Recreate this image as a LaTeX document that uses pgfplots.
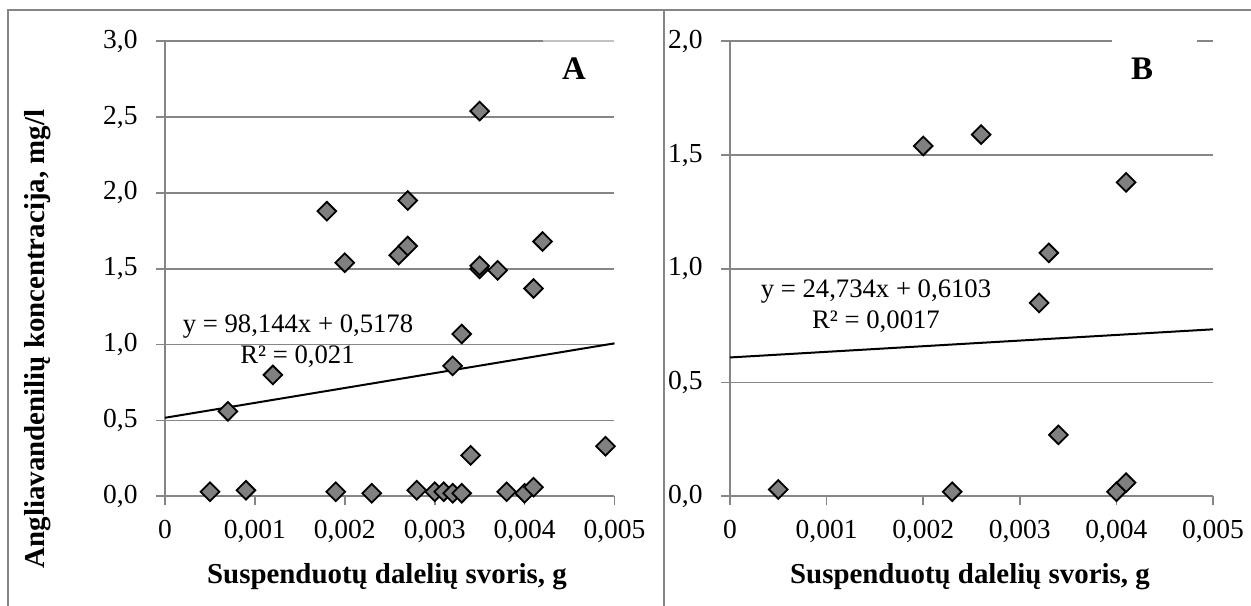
\documentclass[border=0pt]{standalone}
\usepackage{pgfplots}
\pgfplotsset{compat=1.18}
\usepackage{fontspec}
\setmainfont{Liberation Serif}
\definecolor{gridgray}{RGB}{134,134,134}
\definecolor{markgray}{RGB}{128,128,128}
\newcommand\tickfont{\fontsize{13.8}{16}\selectfont}
\newcommand\eqfont{\fontsize{13.4}{16}\selectfont}
\newcommand\titlefont{\fontsize{14.5}{17}\selectfont\bfseries}
\newcommand\letterfont{\fontsize{16.5}{19}\selectfont\bfseries}

\pgfplotsset{
 panel/.style={
  scale only axis, anchor=south west,
  height=227.5bp,
  xmin=0, xmax=0.005, ymin=0,
  axis x line*=bottom, axis y line*=left,
  axis line style={gridgray, line width=0.85bp, -},
  xtick={0,0.001,0.002,0.003,0.004,0.005},
  xticklabels={0,{0,001},{0,002},{0,003},{0,004},{0,005}},
  scaled x ticks=false, scaled y ticks=false,
  tick align=outside, major tick length=4.5bp,
  tick style={gridgray, line width=0.85bp},
  ymajorgrids, grid style={gridgray, line width=0.85bp},
  ticklabel style={font=\tickfont},
  xticklabel style={anchor=north, inner sep=0pt, yshift=-7.5bp},
  yticklabel style={anchor=east, inner sep=0pt, xshift=-9bp},
  clip=false,
 },
 pts/.style={only marks, mark=square*, mark size=3.3bp,
   mark options={rotate=45, fill=markgray, draw=black, line width=0.9bp}},
 trend/.style={black, line width=1bp, no marks},
}

\begin{document}
\begin{tikzpicture}
\useasboundingbox (0,0) rectangle (625.5bp,303bp);
\clip (0,0) rectangle (625.5bp,303bp);
\begin{scope}[x=0.5bp, y=0.5bp]
% chart frames
\draw[gridgray, line width=0.85bp] (8,-10) -- (8,595.7) -- (1260,595.7);
\draw[gridgray, line width=0.85bp] (664,595.7) -- (664,-10);
\end{scope}

% Panel A
\begin{axis}[panel, at={(82.5bp,54.85bp)}, width=224.75bp, ymax=3,
  ytick={0,0.5,1,1.5,2,2.5,3},
  yticklabels={{0,0},{0,5},{1,0},{1,5},{2,0},{2,5},{3,0}}]
\addplot[pts] coordinates {
(0.0005,0.03) (0.0009,0.04) (0.0007,0.56) (0.0012,0.80) (0.0018,1.88)
(0.0019,0.03) (0.0020,1.54) (0.0023,0.02) (0.0026,1.59) (0.0027,1.95)
(0.0027,1.65) (0.0028,0.04) (0.0030,0.03) (0.0031,0.03) (0.0032,0.02)
(0.0032,0.86) (0.0033,0.02) (0.0033,1.07) (0.0034,0.27) (0.0035,2.54)
(0.0035,1.50) (0.0035,1.52) (0.0037,1.49) (0.0038,0.03) (0.0040,0.02)
(0.0041,0.06) (0.0041,1.37) (0.0042,1.68) (0.0049,0.33)};
\addplot[trend] coordinates {(0,0.5178) (0.005,1.00852)};
\end{axis}

% Panel B
\begin{axis}[panel, at={(365bp,54.85bp)}, width=241.5bp, ymax=2,
  ytick={0,0.5,1,1.5,2},
  yticklabels={{0,0},{0,5},{1,0},{1,5},{2,0}}]
\addplot[pts] coordinates {
(0.0005,0.03) (0.0020,1.54) (0.0023,0.02) (0.0026,1.59) (0.0032,0.85)
(0.0033,1.07) (0.0034,0.27) (0.0040,0.02) (0.0041,0.06) (0.0041,1.38)};
\addplot[trend] coordinates {(0,0.6103) (0.005,0.73397)};
\end{axis}

\begin{scope}[x=0.5bp, y=0.5bp]
% text boxes covering top grid line
\fill[white, opacity=0.5] (543,562) rectangle (616,567.5);
\fill[white] (1112,562) rectangle (1197,567.5);

% equations
\node[anchor=base, inner sep=0pt, font=\eqfont] at (298,274) {y = 98,144x + 0,5178};
\node[anchor=base, inner sep=0pt, font=\eqfont] at (297.5,243) {R² = 0,021};
\node[anchor=base, inner sep=0pt, font=\eqfont] at (876,308.4) {y = 24,734x + 0,6103};
\node[anchor=base, inner sep=0pt, font=\eqfont] at (876,277.4) {R² = 0,0017};

% panel letters
\node[inner sep=0pt, font=\letterfont] at (574,537) {A};
\node[inner sep=0pt, font=\letterfont] at (1142,537) {B};

% axis titles
\node[anchor=base, inner sep=0pt, font=\titlefont] at (387,23) {Suspenduotų dalelių svoris, g};
\node[anchor=base, inner sep=0pt, font=\titlefont] at (970,23) {Suspenduotų dalelių svoris, g};
\node[rotate=90, inner sep=0pt, font=\titlefont] at (38,267) {Angliavandenilių koncentracija, mg/l};
\end{scope}
\end{tikzpicture}
\end{document}
